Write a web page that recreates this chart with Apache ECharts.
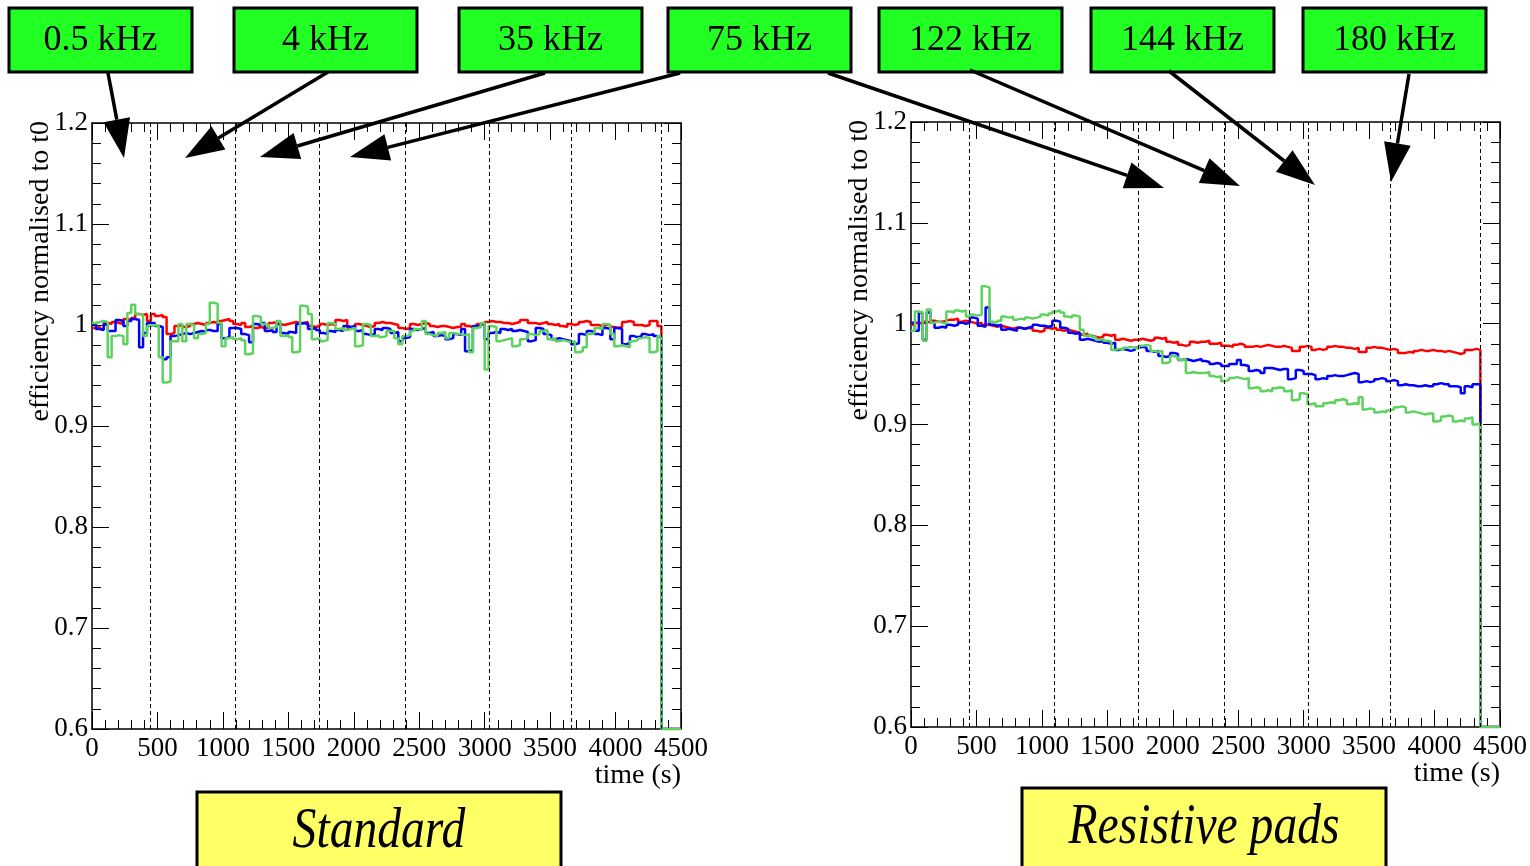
<!DOCTYPE html>
<html>
<head>
<meta charset="utf-8">
<title>efficiency normalised to t0</title>
<script src="https://cdn.jsdelivr.net/npm/echarts@6/dist/echarts.min.js"></script>
<style>
  html, body { margin: 0; padding: 0; background: #fff; }
  #chart { width: 1530px; height: 866px; }
</style>
</head>
<body>
<div id="chart"></div>
<script>
// Histogram binning: 150 bins of 30 s from 0 to 4500 s
const binWidth = 30;
const xTicks = [0, 500, 1000, 1500, 2000, 2500, 3000, 3500, 4000, 4500];
const yTicks = [0.6, 0.7, 0.8, 0.9, 1, 1.1, 1.2];
// Times (s) where the beam rate was changed (dashed lines)
const rateChanges = [445, 1095, 1738, 2390, 3032, 3665, 4350];
const rateLabels = ["0.5 kHz", "4 kHz", "35 kHz", "75 kHz", "122 kHz", "144 kHz", "180 kHz"];
const panelLabels = ["Standard", "Resistive pads"];

// Standard chamber
const redStd = [
  0.997, 0.998, 0.996, 1.002, 1.001, 1.003, 1.002, 1.001, 1.006, 1.005,
  1.007, 1.011, 1.010, 1.011, 1.004, 1.011, 1.009, 1.010, 1.008, 0.991,
  0.992, 0.999, 1.000, 0.998, 0.999, 1.001, 1.002, 1.001, 1.000, 1.002,
  1.003, 1.002, 1.004, 1.005, 1.006, 1.004, 1.001, 1.000, 1.002, 0.998,
  0.999, 0.997, 0.998, 0.997, 0.997, 1.002, 1.003, 1.001, 1.000, 1.001,
  1.002, 1.003, 1.002, 1.002, 1.003, 0.999, 0.998, 0.999, 1.001, 1.000,
  1.001, 1.000, 1.005, 1.004, 1.005, 0.997, 0.998, 1.001, 1.000, 0.999,
  0.998, 0.999, 1.002, 1.003, 1.002, 1.002, 1.001, 1.000, 0.997, 0.996,
  0.997, 1.001, 1.000, 1.001, 1.002, 1.001, 0.999, 0.998, 0.999, 0.999,
  0.998, 0.997, 0.998, 0.998, 1.001, 0.999, 0.998, 0.999, 1.001, 1.000,
  1.003, 1.004, 1.003, 1.003, 1.002, 1.002, 1.001, 1.002, 1.003, 1.005,
  1.005, 1.002, 1.002, 1.001, 1.002, 1.003, 1.001, 1.000, 1.001, 0.999,
  0.998, 1.001, 1.000, 1.001, 1.003, 1.004, 1.003, 1.000, 1.000, 0.999,
  1.000, 1.000, 0.998, 0.997, 0.998, 1.003, 1.004, 1.003, 1.000, 1.000,
  0.999, 1.000, 1.004, 1.004, 0.999, 0, 0, 0, 0, 0
];
const blueStd = [
  1.001, 0.996, 0.995, 1.001, 0.994, 0.994, 1.005, 1.004, 0.999, 1.004,
  1.006, 1.005, 0.978, 0.992, 1.002, 1.002, 0.999, 0.998, 0.966, 0.968,
  0.989, 0.990, 0.991, 0.992, 0.991, 0.992, 0.993, 0.994, 0.993, 0.995,
  0.994, 0.994, 1.001, 0.987, 0.988, 0.997, 0.997, 0.996, 0.991, 0.990,
  0.983, 1.001, 1.000, 1.002, 0.994, 0.995, 0.993, 1.001, 0.992, 0.991,
  0.993, 0.992, 1.001, 1.002, 1.001, 0.996, 0.997, 0.995, 0.992, 0.991,
  0.994, 0.993, 0.995, 0.994, 0.999, 0.998, 0.999, 0.994, 0.995, 0.991,
  0.990, 0.991, 0.996, 0.995, 0.997, 0.996, 0.992, 0.993, 0.984, 0.987,
  0.988, 0.996, 0.995, 0.996, 0.997, 0.992, 0.993, 0.989, 0.990, 0.989,
  0.986, 0.987, 0.991, 0.990, 0.996, 0.974, 0.975, 0.999, 0.998, 1.001,
  0.986, 0.992, 0.993, 0.992, 0.996, 0.995, 0.996, 0.994, 0.995, 0.994,
  0.993, 0.984, 0.985, 0.997, 0.996, 0.991, 0.990, 0.986, 0.987, 0.986,
  0.985, 0.984, 0.981, 0.982, 0.991, 0.990, 0.994, 0.993, 0.991, 0.990,
  0.997, 0.996, 0.986, 0.997, 0.996, 0.981, 0.982, 0.989, 0.988, 0.989,
  0.991, 0.990, 0.991, 0.989, 0.988, 0, 0, 0, 0, 0
];
const greenStd = [
  1.002, 1.003, 1.004, 1.003, 0.968, 0.989, 0.990, 0.989, 0.981, 1.012,
  1.020, 1.011, 1.010, 0.989, 0.999, 1.000, 0.999, 0.968, 0.943, 0.944,
  0.984, 0.984, 1.001, 0.984, 1.001, 1.000, 0.987, 0.991, 0.992, 1.001,
  1.022, 1.021, 1.002, 0.979, 0.987, 0.988, 0.986, 0.987, 0.985, 0.971,
  0.972, 1.009, 1.008, 1.001, 1.000, 0.997, 0.998, 1.004, 0.989, 0.990,
  0.988, 0.973, 0.974, 1.019, 1.018, 1.011, 0.986, 0.987, 0.984, 0.985,
  1.002, 1.001, 0.996, 0.997, 0.995, 0.996, 0.997, 0.979, 0.980, 1.001,
  1.000, 0.989, 0.990, 0.988, 0.989, 0.994, 0.994, 0.987, 0.981, 0.989,
  0.990, 0.994, 0.996, 0.995, 1.004, 0.991, 0.990, 0.989, 0.992, 0.993,
  0.987, 0.992, 0.991, 0.991, 0.990, 0.991, 0.973, 0.997, 0.998, 1.002,
  0.956, 0.999, 0.998, 0.984, 0.985, 0.986, 0.987, 0.979, 0.980, 0.986,
  0.987, 0.991, 0.990, 0.991, 0.994, 0.995, 0.986, 0.987, 0.984, 0.985,
  0.984, 0.983, 0.984, 0.973, 0.974, 0.978, 0.991, 0.992, 0.997, 0.996,
  1.001, 1.000, 0.991, 0.979, 0.980, 0.979, 0.978, 0.984, 0.985, 0.987,
  0.988, 0.987, 0.973, 0.974, 0.989, 0, 0, 0, 0, 0
];

// Resistive pads chamber
const redRes = [
  0.999, 1.001, 1.000, 1.002, 1.001, 1.003, 1.002, 1.002, 1.003, 1.004,
  1.004, 1.005, 1.002, 1.003, 1.002, 1.001, 1.000, 1.001, 0.999, 0.999,
  0.998, 0.997, 0.998, 0.997, 0.996, 0.995, 0.996, 0.996, 0.995, 0.996,
  0.995, 0.993, 0.992, 0.993, 0.996, 0.995, 0.996, 0.994, 0.993, 0.994,
  0.993, 0.992, 0.991, 0.989, 0.990, 0.988, 0.987, 0.986, 0.987, 0.989,
  0.988, 0.989, 0.984, 0.985, 0.984, 0.983, 0.984, 0.984, 0.985, 0.984,
  0.983, 0.984, 0.986, 0.985, 0.986, 0.982, 0.981, 0.982, 0.979, 0.978,
  0.979, 0.982, 0.981, 0.982, 0.982, 0.983, 0.980, 0.980, 0.981, 0.978,
  0.978, 0.977, 0.979, 0.980, 0.979, 0.977, 0.977, 0.978, 0.977, 0.978,
  0.979, 0.978, 0.977, 0.977, 0.978, 0.977, 0.976, 0.973, 0.973, 0.977,
  0.978, 0.977, 0.974, 0.975, 0.974, 0.975, 0.977, 0.978, 0.977, 0.977,
  0.976, 0.976, 0.975, 0.976, 0.972, 0.972, 0.976, 0.977, 0.976, 0.976,
  0.975, 0.974, 0.975, 0.974, 0.971, 0.971, 0.972, 0.971, 0.973, 0.974,
  0.973, 0.973, 0.974, 0.973, 0.973, 0.972, 0.973, 0.972, 0.971, 0.970,
  0.971, 0.974, 0.974, 0.975, 0.974, 0, 0, 0, 0, 0
];
const blueRes = [
  1.001, 0.993, 1.011, 0.984, 1.011, 1.001, 0.996, 0.997, 0.996, 0.999,
  0.998, 0.999, 1.001, 1.000, 1.001, 1.006, 1.005, 0.998, 0.997, 1.016,
  0.999, 0.998, 0.999, 0.994, 0.995, 0.994, 0.993, 0.996, 0.995, 0.996,
  0.997, 0.999, 0.998, 0.998, 0.997, 0.998, 1.003, 1.002, 0.996, 0.995,
  0.991, 0.990, 0.991, 0.984, 0.985, 0.984, 0.983, 0.982, 0.983, 0.981,
  0.980, 0.981, 0.974, 0.975, 0.974, 0.973, 0.974, 0.976, 0.977, 0.976,
  0.973, 0.972, 0.973, 0.968, 0.967, 0.968, 0.971, 0.970, 0.964, 0.965,
  0.964, 0.963, 0.964, 0.965, 0.963, 0.962, 0.960, 0.961, 0.960, 0.958,
  0.958, 0.960, 0.960, 0.964, 0.959, 0.958, 0.953, 0.954, 0.953, 0.951,
  0.956, 0.956, 0.955, 0.954, 0.955, 0.955, 0.945, 0.946, 0.954, 0.953,
  0.950, 0.950, 0.949, 0.945, 0.946, 0.945, 0.948, 0.949, 0.948, 0.948,
  0.949, 0.950, 0.951, 0.950, 0.942, 0.943, 0.942, 0.943, 0.945, 0.946,
  0.945, 0.943, 0.944, 0.943, 0.939, 0.940, 0.939, 0.939, 0.938, 0.938,
  0.939, 0.938, 0.938, 0.940, 0.941, 0.940, 0.940, 0.938, 0.938, 0.937,
  0.931, 0.938, 0.937, 0.940, 0.940, 0, 0, 0, 0, 0
];
const greenRes = [
  0.993, 1.012, 1.011, 0.983, 1.014, 1.001, 1.002, 1.001, 1.000, 1.012,
  1.011, 1.013, 1.012, 1.013, 1.007, 1.009, 1.008, 1.009, 1.037, 1.036,
  1.002, 1.001, 1.003, 1.007, 1.006, 1.007, 1.004, 1.005, 1.004, 1.006,
  1.005, 1.006, 1.007, 1.009, 1.008, 1.010, 1.012, 1.013, 1.011, 1.007,
  1.006, 1.008, 1.007, 0.994, 0.988, 0.989, 0.987, 0.984, 0.985, 0.983,
  0.982, 0.974, 0.975, 0.974, 0.976, 0.977, 0.976, 0.975, 0.978, 0.979,
  0.978, 0.973, 0.972, 0.973, 0.961, 0.962, 0.968, 0.967, 0.964, 0.965,
  0.951, 0.952, 0.951, 0.951, 0.951, 0.952, 0.948, 0.947, 0.948, 0.943,
  0.944, 0.946, 0.947, 0.946, 0.945, 0.946, 0.936, 0.937, 0.936, 0.933,
  0.934, 0.933, 0.936, 0.937, 0.936, 0.933, 0.934, 0.924, 0.925, 0.931,
  0.930, 0.920, 0.921, 0.918, 0.918, 0.921, 0.922, 0.921, 0.924, 0.925,
  0.924, 0.920, 0.921, 0.920, 0.927, 0.915, 0.916, 0.915, 0.912, 0.913,
  0.912, 0.914, 0.915, 0.917, 0.918, 0.917, 0.912, 0.913, 0.912, 0.911,
  0.910, 0.911, 0.911, 0.903, 0.904, 0.908, 0.909, 0.908, 0.903, 0.904,
  0.903, 0.906, 0.907, 0.900, 0.901, 0, 0, 0, 0, 0
];

const FONT = "'Liberation Serif', 'DejaVu Serif', serif";
const xMin = xTicks[0], xMax = xTicks[xTicks.length - 1];
const yMin = yTicks[0], yMax = yTicks[yTicks.length - 1];
const RED = "#ff0000", BLUE = "#0000ff", GREEN = "#5dd35d";

// histogram outline; like ROOT, empty bins are drawn on the frame bottom
const steps = (values) => {
  const pts = values.map((v, i) => [i * binWidth, Math.max(v, yMin)]);
  pts.push([values.length * binWidth, Math.max(values[values.length - 1], yMin)]);
  return pts;
};

const tickStyle = {
  axisLine: { show: true, onZero: false, lineStyle: { color: "#000", width: 1.5 } },
  axisTick: { show: true, inside: true, length: 17, lineStyle: { color: "#000", width: 1 } },
  minorTick: { show: true, splitNumber: 5, length: 9, lineStyle: { color: "#000", width: 1 } },
  splitLine: { show: false },
  minorSplitLine: { show: false },
};

const makeX = (gridIndex, position) => ({
  type: "value", gridIndex, position, min: xMin, max: xMax, interval: 500,
  ...tickStyle,
  axisLabel: {
    show: position === "bottom", margin: 6, color: "#000",
    fontFamily: FONT, fontSize: 27,
    formatter: (v) => String(v),
  },
  name: position === "bottom" ? "time (s)" : "",
  nameLocation: "end", nameGap: 0,
  nameTextStyle: {
    color: "#000", fontFamily: FONT, fontSize: 28,
    align: "right", verticalAlign: "top", padding: [33, 0, 0, 0],
  },
});

const makeY = (gridIndex, position) => ({
  type: "value", gridIndex, position, min: yMin, max: yMax, interval: 0.1,
  ...tickStyle,
  axisLabel: {
    show: position === "left", margin: 4, color: "#000",
    fontFamily: FONT, fontSize: 27,
    formatter: (v) => String(Math.round(v * 10) / 10),
  },
});

const histSeries = (name, values, color, idx, withLines) => {
  const s = {
    name, type: "line", step: "end",
    xAxisIndex: idx * 2, yAxisIndex: idx * 2,
    data: steps(values), showSymbol: false, symbol: "none",
    lineStyle: { color, width: 2.5 }, itemStyle: { color },
    clip: true, silent: true,
  };
  if (withLines) {
    s.markLine = {
      silent: true, symbol: ["none", "none"], label: { show: false },
      lineStyle: { color: "#000", type: [4, 3], width: 1 },
      data: rateChanges.map((t) => ({ xAxis: t })),
    };
  }
  return s;
};

// annotation boxes and arrows
const boxes = [
  [9, 8], [234, 8], [459, 8], [668, 8], [879, 8], [1091, 8], [1303, 8],
];
const arrowLines = [
  [108, 73, 124, 158],
  [328, 72, 185, 158],
  [545, 73, 260, 157],
  [680, 73, 350, 157],
  [828, 73, 1164, 188],
  [970, 70, 1240, 186],
  [1169, 71, 1315, 185],
  [1409, 74, 1391, 182],
];

const arrow = ([x1, y1, x2, y2]) => {
  const headLen = 39, headHalf = 13.5;
  const len = Math.hypot(x2 - x1, y2 - y1);
  const ux = (x2 - x1) / len, uy = (y2 - y1) / len;
  const bx = x2 - ux * headLen, by = y2 - uy * headLen;
  return [
    { type: "line", z: 100, shape: { x1, y1, x2: bx, y2: by },
      style: { stroke: "#000", lineWidth: 3.5 } },
    { type: "polygon", z: 100,
      shape: { points: [[x2, y2], [bx - uy * headHalf, by + ux * headHalf], [bx + uy * headHalf, by - ux * headHalf]] },
      style: { fill: "#000" } },
  ];
};

const graphics = [];
boxes.forEach(([x, y], i) => {
  graphics.push({ type: "rect", z: 100, shape: { x, y, width: 183, height: 64 },
    style: { fill: "#22ff22", stroke: "#000", lineWidth: 3 } });
  graphics.push({ type: "text", z: 101, x: x + 91.5, y: y + 33,
    style: { text: rateLabels[i], font: "36px " + FONT, fill: "#000",
      textAlign: "center", textVerticalAlign: "middle" } });
});
arrowLines.forEach((a) => graphics.push(...arrow(a)));

// yellow panel labels
[[197, 792], [1022, 788]].forEach(([x, y], i) => {
  graphics.push({ type: "rect", z: 100, shape: { x, y, width: 364, height: 90 },
    style: { fill: "#ffff66", stroke: "#000", lineWidth: 3 } });
  graphics.push({ type: "text", z: 101, x: x + 182, y: y + 40, scaleX: 0.85,
    style: { text: panelLabels[i], font: "italic 56px " + FONT,
      fill: "#000", textAlign: "center", textVerticalAlign: "middle" } });
});

// y axis titles, rotated and top aligned like ROOT
[[41, 121], [860, 120]].forEach(([x, y]) => {
  graphics.push({ type: "text", z: 101, x, y, rotation: Math.PI / 2,
    style: { text: "efficiency normalised to t0", font: "28px " + FONT,
      fill: "#000", textAlign: "right", textVerticalAlign: "middle" } });
});

const chart = echarts.init(document.getElementById("chart"));
chart.setOption({
  animation: false,
  backgroundColor: "#fff",
  textStyle: { fontFamily: FONT },
  grid: [
    { left: 92, top: 123, width: 589, height: 606 },
    { left: 911, top: 122, width: 589, height: 605 },
  ],
  xAxis: [makeX(0, "bottom"), makeX(0, "top"), makeX(1, "bottom"), makeX(1, "top")],
  yAxis: [makeY(0, "left"), makeY(0, "right"), makeY(1, "left"), makeY(1, "right")],
  series: [
    histSeries("red", redStd, RED, 0, true),
    histSeries("blue", blueStd, BLUE, 0, false),
    histSeries("green", greenStd, GREEN, 0, false),
    histSeries("red", redRes, RED, 1, true),
    histSeries("blue", blueRes, BLUE, 1, false),
    histSeries("green", greenRes, GREEN, 1, false),
  ],
  graphic: { elements: graphics },
});
</script>
</body>
</html>
